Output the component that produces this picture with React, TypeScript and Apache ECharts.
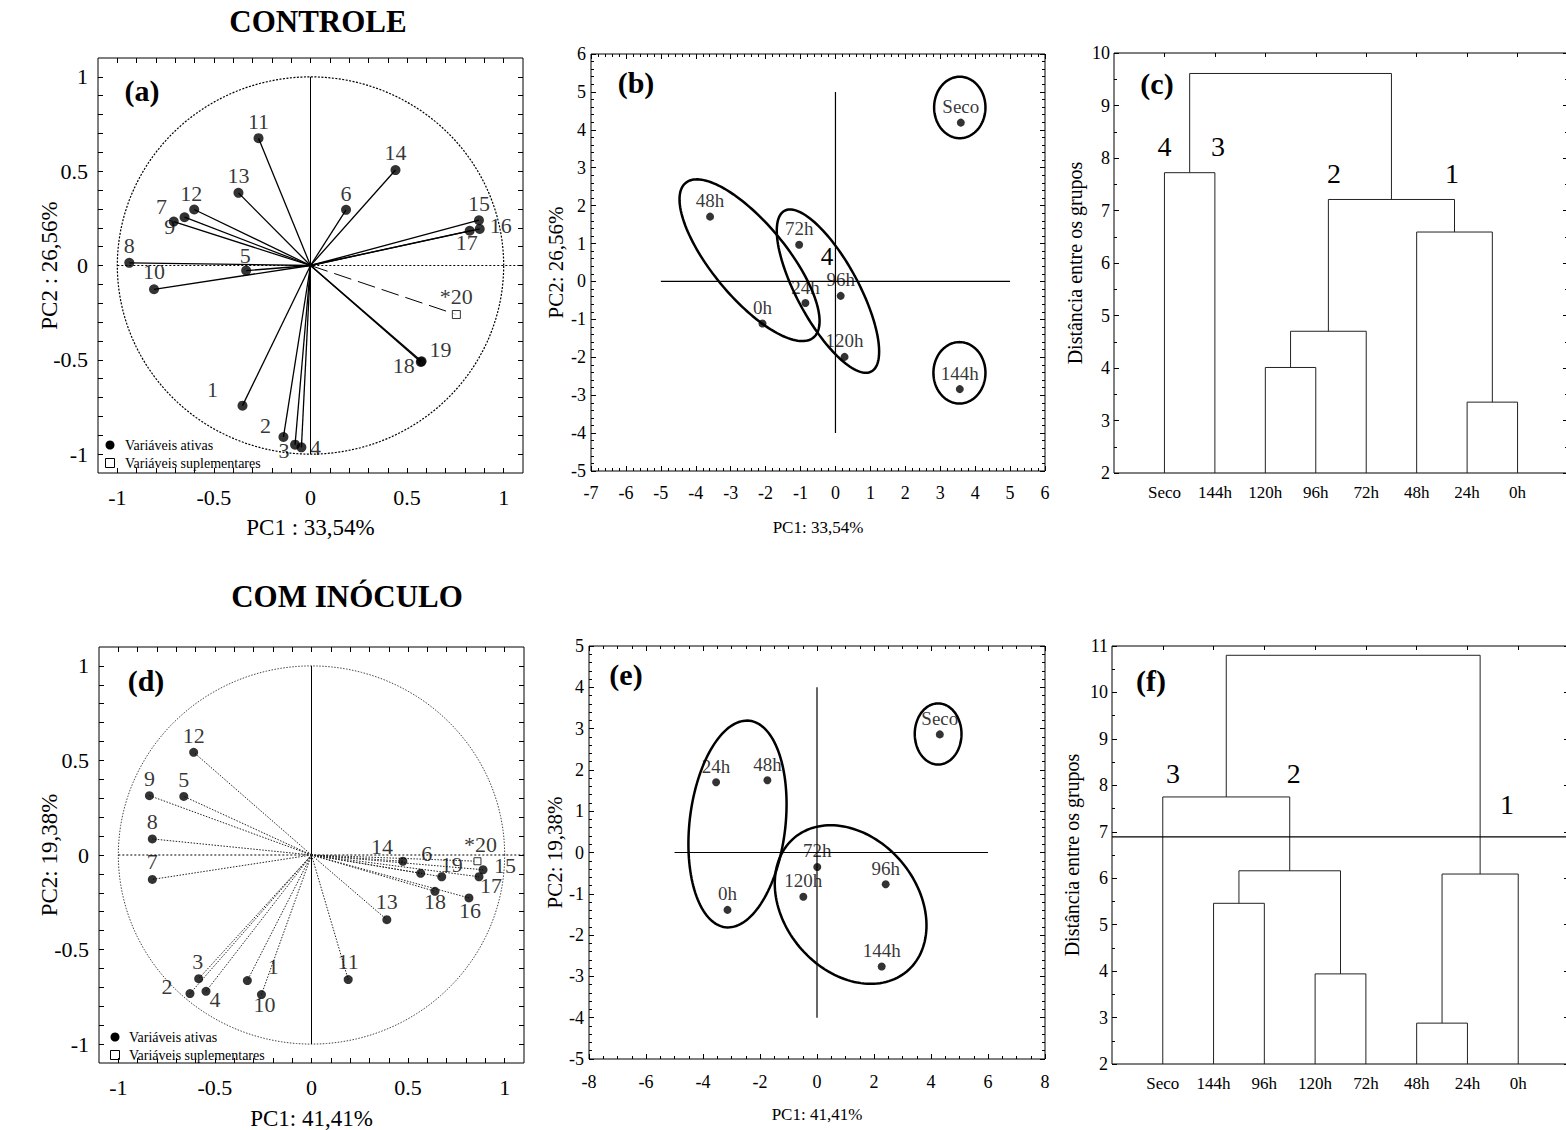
import React, { useEffect, useRef } from 'react';
import * as echarts from 'echarts';

const SERIF = '"Liberation Serif", "Times New Roman", Times, serif';

// ================= DATA =================
// PCA loadings – variables 1..19 (active) and *20 (supplementary)
const variableLabels = ['1', '2', '3', '4', '5', '6', '7', '8', '9', '10', '11', '12', '13', '14', '15', '16', '17', '18', '19'];
const supplementaryLabel = '*20';

const controlLoadPC1 = [-0.352, -0.14, -0.08, -0.047, -0.333, 0.184, -0.652, -0.938, -0.708, -0.81, -0.269, -0.602, -0.373, 0.44, 0.872, 0.876, 0.824, 0.571, 0.575];
const controlLoadPC2 = [-0.743, -0.909, -0.95, -0.964, -0.027, 0.295, 0.256, 0.014, 0.233, -0.126, 0.675, 0.297, 0.385, 0.506, 0.24, 0.194, 0.184, -0.511, -0.508];
const controlSupLoad = [0.755, -0.26];

const inoculumLoadPC1 = [-0.332, -0.629, -0.584, -0.546, -0.661, 0.565, -0.824, -0.824, -0.839, -0.259, 0.19, -0.61, 0.39, 0.473, 0.888, 0.815, 0.867, 0.639, 0.674];
const inoculumLoadPC2 = [-0.664, -0.733, -0.654, -0.721, 0.31, -0.097, -0.129, 0.085, 0.314, -0.738, -0.659, 0.543, -0.342, -0.033, -0.078, -0.227, -0.115, -0.192, -0.115];
const inoculumSupLoad = [0.859, -0.033];

// PCA scores – samples
const sampleLabels = ['0h', '24h', '48h', '72h', '96h', '120h', '144h', 'Seco'];
const controlScorePC1 = [-2.09, -0.86, -3.59, -1.04, 0.15, 0.26, 3.56, 3.59];
const controlScorePC2 = [-1.11, -0.57, 1.71, 0.97, -0.38, -1.99, -2.84, 4.19];
const inoculumScorePC1 = [-3.14, -3.54, -1.74, 0.01, 2.41, -0.48, 2.27, 4.31];
const inoculumScorePC2 = [-1.39, 1.70, 1.75, -0.35, -0.77, -1.07, -2.76, 2.86];

// group ellipses in data units: [centerX, centerY, semiAxisU_x, semiAxisU_y, semiAxisV_x, semiAxisV_y]
const controlEllipses = [
  [-2.46, 0.56, 1.83, -2.04, 0.82, 0.625],
  [-0.215, -0.255, 1.243, -2.119, 0.776, 0.386],
  [3.56, 4.59, 0.735, 0, 0, 0.81],
  [3.55, -2.41, 0.745, 0, 0, 0.81],
];
const inoculumEllipses = [
  [-2.79, 0.69, 0.42, 2.5, 1.67, -0.134],
  [1.18, -1.26, 1.97, -1.62, 1.79, 1.03],
  [4.25, 2.87, 0.82, 0, 0, 0.74],
];
// reference cross lines [x1, y1, x2, y2]
const controlCrossLines = [[-5, 0, 5, 0], [0, -4, 0, 5]];
const inoculumCrossLines = [[-5, 0, 6, 0], [0, -4, 0, 4]];
const controlNoteText = ['4'];
const controlNoteX = [-0.24];
const controlNoteY = [0.66];

// dendrograms: leaves are nodes 0..7, each merge creates node 8, 9, ...
const controlLeaves = ['Seco', '144h', '120h', '96h', '72h', '48h', '24h', '0h'];
const controlMergeLeft = [0, 2, 9, 6, 5, 10, 8];
const controlMergeRight = [1, 3, 4, 7, 11, 12, 13];
const controlMergeHeight = [7.72, 4.01, 4.70, 3.35, 6.59, 7.21, 9.61];
const controlGroupLabels = ['4', '3', '2', '1'];
const controlGroupX = [1.0, 2.06, 4.36, 6.7];
const controlGroupY = [8.22, 8.22, 7.71, 7.71];

const inoculumLeaves = ['Seco', '144h', '96h', '120h', '72h', '48h', '24h', '0h'];
const inoculumMergeLeft = [1, 3, 8, 0, 5, 12, 11];
const inoculumMergeRight = [2, 4, 9, 10, 6, 7, 13];
const inoculumMergeHeight = [5.46, 3.94, 6.16, 7.75, 2.88, 6.09, 10.8];
const inoculumCut = 6.89;
const inoculumGroupLabels = ['3', '2', '1'];
const inoculumGroupX = [1.2, 3.58, 7.78];
const inoculumGroupY = [8.26, 8.26, 7.58];

// ================= LAYOUT =================
const GRIDS = [
  { left: 98, top: 58, width: 425, height: 415 },
  { left: 591, top: 54, width: 454, height: 417 },
  { left: 1114, top: 53, width: 454, height: 420 },
  { left: 99, top: 647, width: 425, height: 416 },
  { left: 589, top: 646, width: 456, height: 413 },
  { left: 1112, top: 646, width: 457, height: 418 },
];

const labelOffsetA: number[][] = [[-30, -16], [-18, -11], [-11, 6], [14, 0], [-1, -15], [0, -16], [-23, -11], [0, -17], [-4, 5], [0, -18], [0, -17], [-3, -16], [0, -17], [0, -18], [0, -17], [21, -3], [-3, 12], [-17, 4], [19, -12]];
const supOffsetA = [0, -18];
const labelOffsetD: number[][] = [[26, -14], [-23, -7], [-1, -17], [9, 8], [0, -17], [6, -20], [0, -18], [0, -17], [0, -17], [3, 10], [0, -18], [0, -17], [0, -18], [-21, -15], [22, -4], [1, 13], [12, 9], [0, 10], [10, -12]];
const supOffsetD = [3, -17];

const pcaTicks = Array.from({ length: 21 }, (_, i) => Math.round((-1 + 0.1 * i) * 10) / 10);
const pcaLabels = [-1, -0.5, 0, 0.5, 1];
const leafPositions = [1, 2, 3, 4, 5, 6, 7, 8];

function buildDendro(n: number, left: number[], right: number[], heights: number[], base: number) {
  const xs = Array.from({ length: n }, (_, i) => i + 1);
  const hs = Array.from({ length: n }, () => base);
  const segs: number[][] = [];
  for (let m = 0; m < left.length; m++) {
    const l = left[m], r = right[m], h = heights[m];
    segs.push([xs[l], hs[l], xs[r], hs[r], h]);
    xs.push((xs[l] + xs[r]) / 2);
    hs.push(h);
  }
  return segs;
}

function axisPair(isX: boolean, gi: number, c: any) {
  const common: any = {
    gridIndex: gi, type: 'value', min: c.min, max: c.max,
    splitLine: { show: false }, axisLine: { show: false, onZero: false }, silent: true,
  };
  if (c.interval) common.interval = c.interval;
  const tickLine = { color: '#000', width: 1 };
  const minor = c.minor ? { show: true, splitNumber: c.minor, length: 3, lineStyle: { color: '#000', width: 1 } } : { show: false };
  const mainTick: any = c.mainTick === false ? { show: false } : { show: true, inside: true, length: 5, lineStyle: tickLine };
  if (c.tickValues && c.mainTick !== false) mainTick.customValues = c.tickValues;
  const label: any = { show: true, color: '#000', fontFamily: SERIF, fontSize: c.labelSize, margin: c.labelMargin };
  if (c.labelValues) label.customValues = c.labelValues;
  if (c.formatter) label.formatter = c.formatter;
  const oppTick: any = { show: true, inside: true, length: c.oppTickLen || 5, lineStyle: tickLine };
  const oppValues = c.oppTickValues || c.tickValues;
  if (oppValues) oppTick.customValues = oppValues;
  return [
    {
      ...common, position: isX ? 'bottom' : 'left',
      axisTick: mainTick, minorTick: minor, axisLabel: label,
      name: c.name, nameLocation: 'middle', nameGap: c.nameGap, nameMoveOverlap: false,
      nameTextStyle: { color: '#000', fontFamily: SERIF, fontSize: c.nameSize },
    },
    {
      ...common, position: isX ? 'top' : 'right',
      axisTick: oppTick, minorTick: c.oppMinor === false ? { show: false } : minor, axisLabel: { show: false },
    },
  ];
}

// ---------- render helpers ----------
const lineEl = (a: number[], b: number[], style: any) => ({
  type: 'line', shape: { x1: a[0], y1: a[1], x2: b[0], y2: b[1] }, style,
});

const frameRender = (circleStyle: any) => (_p: any, api: any) => {
  const pts: number[][] = [];
  for (let i = 0; i <= 240; i++) {
    const t = (i / 240) * Math.PI * 2;
    pts.push(api.coord([Math.cos(t), Math.sin(t)]));
  }
  return {
    type: 'group',
    children: [
      { type: 'polyline', shape: { points: pts }, style: { ...circleStyle, fill: 'none' } },
      lineEl(api.coord([-1, 0]), api.coord([1.1, 0]), { stroke: '#000', lineWidth: 1, lineDash: [2, 2] }),
      lineEl(api.coord([0, 1]), api.coord([0, -1]), { stroke: '#000', lineWidth: 1 }),
    ],
  };
};

const rayRender = (style: any) => (_p: any, api: any) =>
  lineEl(api.coord([0, 0]), api.coord([api.value(0), api.value(1)]), style);

const segRender = (style: any) => (_p: any, api: any) =>
  lineEl(api.coord([api.value(0), api.value(1)]), api.coord([api.value(2), api.value(3)]), style);

const ellipseRender = (_p: any, api: any) => {
  const cx = api.value(0), cy = api.value(1), ux = api.value(2), uy = api.value(3), vx = api.value(4), vy = api.value(5);
  const pts: number[][] = [];
  for (let i = 0; i < 144; i++) {
    const t = (i / 144) * Math.PI * 2;
    pts.push(api.coord([cx + ux * Math.cos(t) + vx * Math.sin(t), cy + uy * Math.cos(t) + vy * Math.sin(t)]));
  }
  return { type: 'polygon', shape: { points: pts }, style: { stroke: '#000', fill: 'none', lineWidth: 2.5 } };
};

const dendroRender = (_p: any, api: any) => {
  const xl = api.value(0), hl = api.value(1), xr = api.value(2), hr = api.value(3), h = api.value(4);
  return {
    type: 'polyline',
    shape: { points: [api.coord([xl, hl]), api.coord([xl, h]), api.coord([xr, h]), api.coord([xr, hr])] },
    style: { stroke: '#222', fill: 'none', lineWidth: 1 },
  };
};

const textRender = (labels: string[], size: number) => (p: any, api: any) => {
  const c = api.coord([api.value(0), api.value(1)]);
  return {
    type: 'text', x: c[0], y: c[1],
    style: {
      text: labels[p.dataIndex], fill: '#000', font: `${size}px ${SERIF}`,
      fontSize: size, fontFamily: SERIF,
      align: 'center', verticalAlign: 'middle', textAlign: 'center', textVerticalAlign: 'middle',
    },
  };
};

function onGrid(gi: number) {
  return { xAxisIndex: 2 * gi, yAxisIndex: 2 * gi };
}

function loadingSeries(gi: number, pc1: number[], pc2: number[], sup: number[], offs: number[][], supOff: number[], dotted: boolean) {
  const rayStyle = dotted
    ? { stroke: '#222', lineWidth: 1, lineDash: [1.5, 1.5] }
    : { stroke: '#000', lineWidth: 1.3 };
  const supStyle = dotted
    ? { stroke: '#222', lineWidth: 1, lineDash: [1.5, 1.5] }
    : { stroke: '#000', lineWidth: 1, lineDash: [18, 7] };
  const circleStyle = dotted
    ? { stroke: '#444', lineWidth: 1, lineDash: [1.5, 1.5] }
    : { stroke: '#000', lineWidth: 1.2, lineDash: [2, 1.5] };
  const pts = pc1.map((x, i) => [x, pc2[i]]);
  const symSize = dotted ? 9 : 10;
  return [
    { type: 'custom', ...onGrid(gi), silent: true, z: 1, data: [[0, 0]], renderItem: frameRender(circleStyle) },
    { type: 'custom', ...onGrid(gi), silent: true, z: 2, data: pts, renderItem: rayRender(rayStyle) },
    { type: 'custom', ...onGrid(gi), silent: true, z: 2, data: [sup], renderItem: rayRender(supStyle) },
    {
      type: 'scatter', name: 'Variáveis ativas', ...onGrid(gi), silent: true, z: 5,
      symbol: 'circle', symbolSize: symSize, itemStyle: { color: '#000' },
      label: { show: true, position: 'inside', formatter: '{b}', color: '#000', fontFamily: SERIF, fontSize: 22 },
      data: pts.map((p, i) => ({ name: variableLabels[i], value: p, label: { offset: offs[i] } })),
    },
    {
      type: 'scatter', name: 'Variáveis suplementares', ...onGrid(gi), silent: true, z: 5,
      symbol: 'rect', symbolSize: dotted ? 7 : 8,
      itemStyle: { color: '#fff', borderColor: '#000', borderWidth: 1 },
      label: { show: true, position: 'inside', formatter: '{b}', color: '#000', fontFamily: SERIF, fontSize: 22 },
      data: [{ name: supplementaryLabel, value: sup, label: { offset: supOff } }],
    },
  ];
}

function scoreSeries(gi: number, pc1: number[], pc2: number[], ellipses: number[][], cross: number[][]) {
  return [
    { type: 'custom', ...onGrid(gi), silent: true, z: 1, data: cross, renderItem: segRender({ stroke: '#000', lineWidth: 1.2 }) },
    { type: 'custom', ...onGrid(gi), silent: true, z: 2, data: ellipses, renderItem: ellipseRender },
    {
      type: 'scatter', ...onGrid(gi), silent: true, z: 5,
      symbol: 'circle', symbolSize: 8, itemStyle: { color: '#000' },
      label: { show: true, position: 'inside', formatter: '{b}', color: '#000', fontFamily: SERIF, fontSize: 19, offset: [0, -16] },
      data: pc1.map((x, i) => ({ name: sampleLabels[i], value: [x, pc2[i]] })),
    },
  ];
}

function dendroSeries(gi: number, segs: number[][], gLabels: string[], gx: number[], gy: number[]) {
  return [
    { type: 'custom', ...onGrid(gi), silent: true, z: 2, data: segs, renderItem: dendroRender },
    { type: 'custom', ...onGrid(gi), silent: true, z: 3, data: gx.map((x, i) => [x, gy[i]]), renderItem: textRender(gLabels, 28) },
  ];
}

function panelLetter(text: string, x: number, y: number) {
  return {
    type: 'text', x, y, silent: true,
    style: {
      text, fill: '#000', font: `bold 30px ${SERIF}`,
      align: 'center', verticalAlign: 'middle', textAlign: 'center', textVerticalAlign: 'middle',
    },
  };
}

function plainText(text: string, x: number, y: number, size: number, align = 'left', bold = false) {
  return {
    type: 'text', x, y, silent: true,
    style: {
      text, fill: '#000', font: `${bold ? 'bold ' : ''}${size}px ${SERIF}`,
      align, verticalAlign: 'middle', textAlign: align, textVerticalAlign: 'middle',
    },
  };
}

function legendEls(cx: number, cy: number, tx: number, ty2: number) {
  return [
    { type: 'circle', silent: true, shape: { cx, cy, r: 4.5 }, style: { fill: '#000' } },
    plainText('Variáveis ativas', tx, cy, 14),
    { type: 'rect', silent: true, shape: { x: cx - 4.5, y: ty2 - 4.5, width: 9, height: 9 }, style: { fill: '#fff', stroke: '#000', lineWidth: 1 } },
    plainText('Variáveis suplementares', tx, ty2, 14),
  ];
}

function buildOption() {
  const segC = buildDendro(controlLeaves.length, controlMergeLeft, controlMergeRight, controlMergeHeight, 2);
  const segF = buildDendro(inoculumLeaves.length, inoculumMergeLeft, inoculumMergeRight, inoculumMergeHeight, 2);

  const pcaX = (name: string, gap: number) => ({
    min: -1.1, max: 1.1, tickValues: pcaTicks, labelValues: pcaLabels, labelSize: 22, labelMargin: 13,
    name, nameGap: gap, nameSize: 23,
  });
  const pcaY = (name: string, gap: number) => ({
    min: -1.1, max: 1.1, tickValues: pcaTicks, labelValues: pcaLabels, labelSize: 22, labelMargin: 10,
    name, nameGap: gap, nameSize: 23,
  });
  const dendX = (leaves: string[]) => ({
    min: 0, max: 9, mainTick: false, labelValues: leafPositions, labelSize: 17, labelMargin: 11,
    formatter: (v: number) => leaves[Math.round(v) - 1] || '', oppTickValues: leafPositions, oppTickLen: 4, oppMinor: false,
  });

  const xAxis = [
    ...axisPair(true, 0, pcaX('PC1 : 33,54%', 43)),
    ...axisPair(true, 1, { min: -7, max: 6, interval: 1, minor: 5, labelSize: 18, labelMargin: 13, name: 'PC1: 33,54%', nameGap: 48, nameSize: 17 }),
    ...axisPair(true, 2, dendX(controlLeaves)),
    ...axisPair(true, 3, pcaX('PC1: 41,41%', 44)),
    ...axisPair(true, 4, { min: -8, max: 8, interval: 2, minor: 4, labelSize: 18, labelMargin: 14, name: 'PC1: 41,41%', nameGap: 47, nameSize: 17 }),
    ...axisPair(true, 5, dendX(inoculumLeaves)),
  ];
  const yAxis = [
    ...axisPair(false, 0, pcaY('PC2 : 26,56%', 37)),
    ...axisPair(false, 1, { min: -5, max: 6, interval: 1, minor: 5, labelSize: 18, labelMargin: 5, name: 'PC2: 26,56%', nameGap: 25, nameSize: 21 }),
    ...axisPair(false, 2, { min: 2, max: 10, interval: 1, minor: 2, labelSize: 18, labelMargin: 4, name: 'Distância entre os grupos', nameGap: 29, nameSize: 20 }),
    ...axisPair(false, 3, pcaY('PC2: 19,38%', 38)),
    ...axisPair(false, 4, { min: -5, max: 5, interval: 1, minor: 5, labelSize: 18, labelMargin: 5, name: 'PC2: 19,38%', nameGap: 24, nameSize: 21 }),
    ...axisPair(false, 5, { min: 2, max: 11, interval: 1, minor: 2, labelSize: 18, labelMargin: 4, name: 'Distância entre os grupos', nameGap: 30, nameSize: 20 }),
  ];

  const series = [
    ...loadingSeries(0, controlLoadPC1, controlLoadPC2, controlSupLoad, labelOffsetA, supOffsetA, false),
    ...scoreSeries(1, controlScorePC1, controlScorePC2, controlEllipses, controlCrossLines),
    { type: 'custom', ...onGrid(1), silent: true, z: 4, data: controlNoteX.map((x, i) => [x, controlNoteY[i]]), renderItem: textRender(controlNoteText, 25) },
    ...dendroSeries(2, segC, controlGroupLabels, controlGroupX, controlGroupY),
    ...loadingSeries(3, inoculumLoadPC1, inoculumLoadPC2, inoculumSupLoad, labelOffsetD, supOffsetD, true),
    ...scoreSeries(4, inoculumScorePC1, inoculumScorePC2, inoculumEllipses, inoculumCrossLines),
    ...dendroSeries(5, segF, inoculumGroupLabels, inoculumGroupX, inoculumGroupY),
    { type: 'custom', ...onGrid(5), silent: true, z: 3, data: [[0, inoculumCut, 9, inoculumCut]], renderItem: segRender({ stroke: '#000', lineWidth: 1.2 }) },
  ];

  const graphic = [
    plainText('CONTROLE', 318, 21, 31, 'center', true),
    plainText('COM INÓCULO', 347, 596, 31, 'center', true),
    panelLetter('(a)', 142, 90),
    panelLetter('(b)', 636, 82),
    panelLetter('(c)', 1157, 83),
    panelLetter('(d)', 146, 680),
    panelLetter('(e)', 626, 674),
    panelLetter('(f)', 1151, 680),
    ...legendEls(110, 445, 125, 463),
    ...legendEls(115, 1037, 129, 1055),
  ];

  return {
    animation: false,
    backgroundColor: '#fff',
    textStyle: { fontFamily: SERIF },
    grid: GRIDS.map((g) => ({
      ...g, show: true, borderColor: '#000', borderWidth: 1, backgroundColor: 'transparent',
      containLabel: false, outerBoundsMode: 'none',
    })),
    xAxis,
    yAxis,
    series,
    graphic,
  };
}

export default function App() {
  const ref = useRef<HTMLDivElement>(null);
  useEffect(() => {
    const chart = echarts.init(ref.current as HTMLDivElement, null, { renderer: 'svg' });
    chart.setOption(buildOption() as any);
    return () => chart.dispose();
  }, []);
  return (
    <div
      ref={ref}
      style={{ position: 'absolute', left: 0, top: 0, width: 1566, height: 1130, background: '#fff' }}
    />
  );
}
